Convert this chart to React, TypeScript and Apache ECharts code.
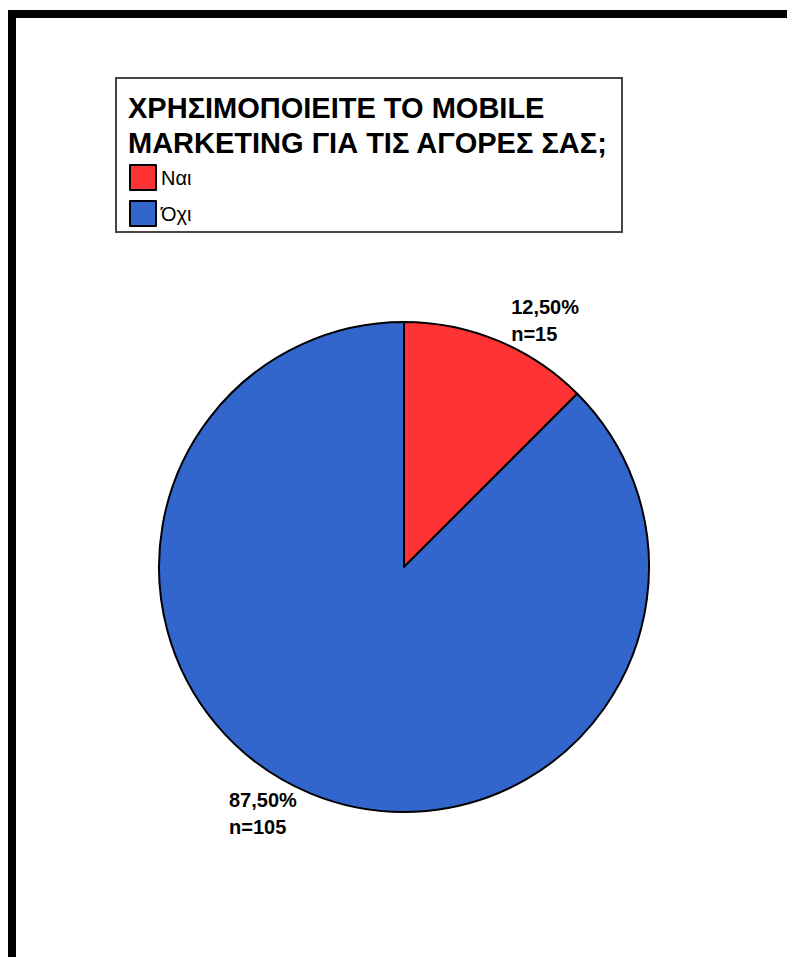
import React, { useEffect, useRef } from "react";
import * as echarts from "echarts";

const titleLines = ["ΧΡΗΣΙΜΟΠΟΙΕΙΤΕ ΤΟ MOBILE", "MARKETING ΓΙΑ ΤΙΣ ΑΓΟΡΕΣ ΣΑΣ;"];
const categories = ["Ναι", "Όχι"];
const counts = [15, 105];
const percentLabels = ["12,50%", "87,50%"];
const colors = ["#FF3333", "#3366CC"];

export default function App() {
  const ref = useRef<HTMLDivElement>(null);
  useEffect(() => {
    document.body.style.margin = "0";
    const chart = echarts.init(ref.current!, null, { renderer: "svg" });
    chart.setOption({
      animation: false,
      backgroundColor: "#ffffff",
      title: {
        text: titleLines.join("\n"),
        left: 128,
        top: 90,
        padding: 0,
        textStyle: {
          fontFamily: "Liberation Sans, Arial, sans-serif",
          fontWeight: "bold",
          fontSize: 29,
          lineHeight: 35,
          color: "#000",
        },
      },
      legend: {
        orient: "vertical",
        left: 129,
        top: 164,
        padding: 0,
        itemWidth: 26,
        itemHeight: 25,
        itemGap: 9,
        icon: "rect",
        data: categories,
        textStyle: {
          fontFamily: "Liberation Sans, Arial, sans-serif",
          fontSize: 20,
          color: "#000",
        },
      },
      graphic: [
        {
          type: "rect",
          shape: { x: 12, y: 14, width: 1000, height: 1100 },
          style: { fill: "none", stroke: "#000", lineWidth: 8 },
          silent: true,
        },
        {
          type: "rect",
          shape: { x: 116, y: 78, width: 506, height: 154 },
          style: { fill: "none", stroke: "#444", lineWidth: 2 },
          silent: true,
        },
      ],
      series: [
        {
          type: "pie",
          center: [404, 567],
          radius: [0, 245],
          startAngle: 90,
          clockwise: true,
          avoidLabelOverlap: false,
          itemStyle: { borderColor: "#000", borderWidth: 2 },
          label: {
            show: true,
            position: "outside",
            fontFamily: "Liberation Sans, Arial, sans-serif",
            fontWeight: "bold",
            fontSize: 20,
            lineHeight: 27,
            color: "#000",
            formatter: (p: any) => `${percentLabels[p.dataIndex]}\nn=${p.value}`,
          },
          labelLayout: (params: any) => ({
            x: params.labelRect.x,
            y: params.labelRect.y + params.labelRect.height / 2,
            align: "left",
            verticalAlign: "middle",
          }),
          labelLine: { show: false, length: 22, length2: 0 },
          emphasis: { disabled: true },
          data: categories.map((c, i) => ({
            name: c,
            value: counts[i],
            itemStyle: { color: colors[i] },
          })),
        },
      ],
    });
    return () => chart.dispose();
  }, []);
  return <div ref={ref} style={{ width: 787, height: 957 }} />;
}
